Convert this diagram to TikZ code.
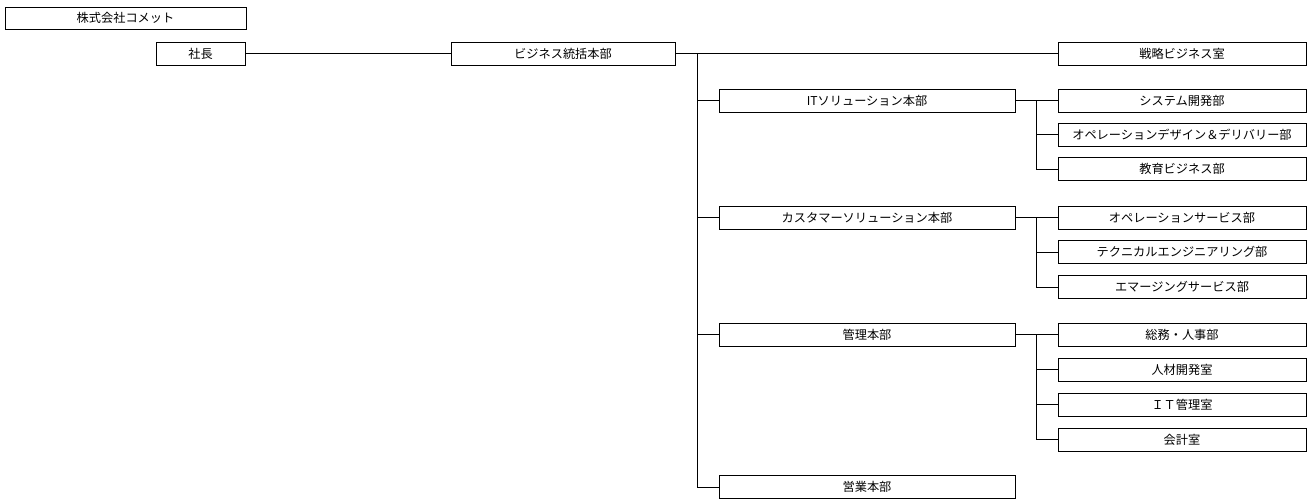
\documentclass[tikz,border=0pt]{standalone}
\usepackage{fontspec}
\setmainfont{Noto Sans CJK JP}
\usepackage{tikz}
\usetikzlibrary{positioning}

\begin{document}
\begin{tikzpicture}[x=1pt,y=-1pt,line width=0.8pt,
			org box/.style={rectangle,draw,inner sep=0pt,minimum height=23pt,
				font=\fontsize{12.2}{14}\selectfont},
			head box/.style={org box,minimum width=296pt},
			dept box/.style={org box,minimum width=248pt}]
			
			\useasboundingbox (0,0) rectangle (1314,502);
			
			\node[org box,minimum width=241pt,minimum height=22pt] (company) at (125.5,18) {株式会社コメット};
			\node[org box,minimum width=89pt] (president) at (200.5,53.5) {社長};
			\node[org box,minimum width=224pt] (bizhq) at (563,53.5) {ビジネス統括本部};
			\node[dept box] (strategy) at (1182,53.5) {戦略ビジネス室};
			
			\node[head box] (ithq) at (867,100.5) {ITソリューション本部};
			\node[dept box] (sysdev) at (1182,100.5) {システム開発部};
			\node[dept box] (opdesign) at (1182,134.5) {オペレーションデザイン＆デリバリー部};
			\node[dept box] (edu) at (1182,169) {教育ビジネス部};
			
			\node[head box] (custhq) at (867,217.5) {カスタマーソリューション本部};
			\node[dept box] (opservice) at (1182,217.5) {オペレーションサービス部};
			\node[dept box] (technical) at (1182,252) {テクニカルエンジニアリング部};
			\node[dept box] (emerging) at (1182,287) {エマージングサービス部};
			
			\node[head box] (adminhq) at (867,334.5) {管理本部};
			\node[dept box] (generalhr) at (1182,334.5) {総務・人事部};
			\node[dept box] (talent) at (1182,369.5) {人材開発室};
			\node[dept box] (itadmin) at (1182,404.5) {ＩＴ管理室};
			\node[dept box] (accounting) at (1182,439.5) {会計室};
			
			\node[head box] (saleshq) at (867,487) {営業本部};
			
			% trunk and branch points
			\coordinate (trunk) at (697,53.5);
			\coordinate (itbus) at (1036,100.5);
			\coordinate (custbus) at (1036,217.5);
			\coordinate (adminbus) at (1036,334.5);
			
			\draw (president) -- (bizhq);
			\draw (bizhq) -- (strategy);
			\draw (trunk) |- (ithq.west);
			\draw (trunk) |- (custhq.west);
			\draw (trunk) |- (adminhq.west);
			\draw (trunk) |- (saleshq.west);
			
			\draw (ithq.east) -- (sysdev.west);
			\draw (itbus) |- (opdesign.west);
			\draw (itbus) |- (edu.west);
			
			\draw (custhq.east) -- (opservice.west);
			\draw (custbus) |- (technical.west);
			\draw (custbus) |- (emerging.west);
			
			\draw (adminhq.east) -- (generalhr.west);
			\draw (adminbus) |- (talent.west);
			\draw (adminbus) |- (itadmin.west);
			\draw (adminbus) |- (accounting.west);
		\end{tikzpicture}
\end{document}
